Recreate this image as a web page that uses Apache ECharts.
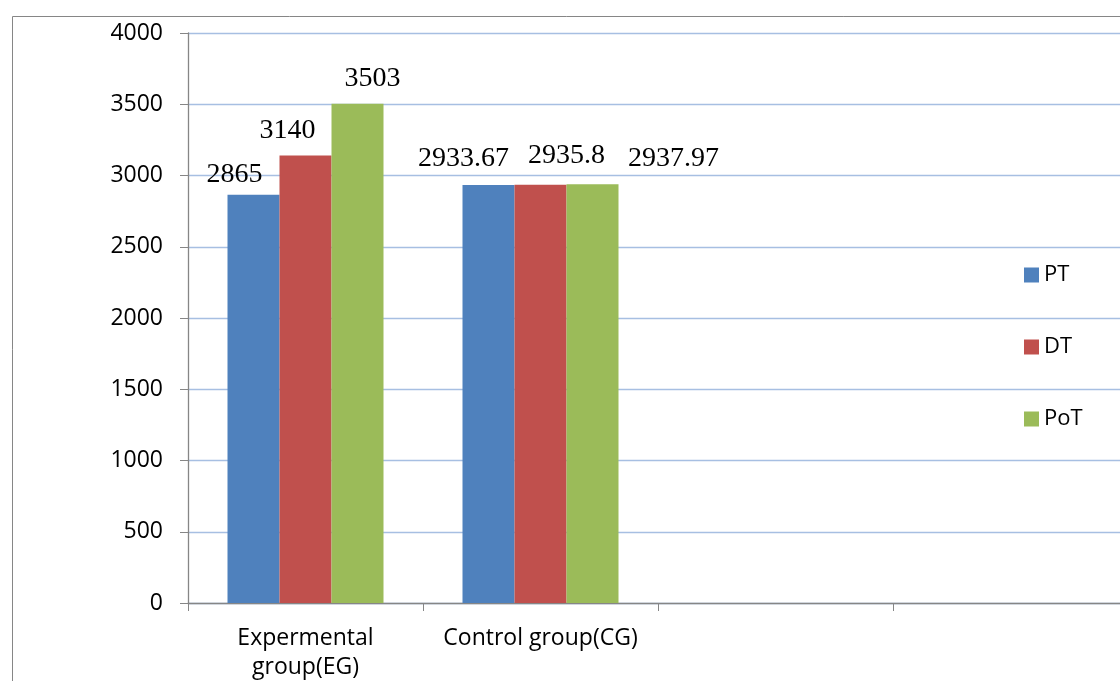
<!DOCTYPE html>
<html>
<head>
<meta charset="utf-8">
<script src="https://cdn.jsdelivr.net/npm/echarts@6/dist/echarts.min.js"></script>
<style>
  html, body { margin: 0; padding: 0; background: #ffffff; }
  #chart { width: 1120px; height: 681px; }
</style>
</head>
<body>
<div id="chart"></div>
<script>
// Groups on the x axis (the last two bands are empty)
const categories = ['Expermental\ngroup(EG)', 'Control group(CG)', '', ''];
// Test phases
const seriesNames = ['PT', 'DT', 'PoT'];
// Scores per phase, one value per group
const ptValues = [2865, 2933.67];
const dtValues = [3140, 2935.8];
const potValues = [3503, 2937.97];
// Y axis ticks
const yTicks = [0, 500, 1000, 1500, 2000, 2500, 3000, 3500, 4000];

// Colours and data-label shifts for each series
const palette = ['#4f81bd', '#c0504d', '#9bbb59'];
const labelShift = [
  [[-19, -6], [-25, -12]],
  [[-18, -11], [26, -15]],
  [[15, -11], [81, -12]]
];

const valueSets = [ptValues, dtValues, potValues];
const sansFont = '"Open Sans", sans-serif';

const series = seriesNames.map((name, s) => ({
  name: name,
  type: 'bar',
  barWidth: 52,
  barGap: '0%',
  itemStyle: { color: palette[s] },
  data: valueSets[s].map((v, i) => ({
    value: v,
    label: { offset: labelShift[s][i] }
  })),
  label: {
    show: true,
    position: 'top',
    distance: 0,
    fontFamily: '"Liberation Serif", "Times New Roman", serif',
    fontSize: 28,
    color: '#000000',
    formatter: p => String(p.value)
  }
}));

const chart = echarts.init(document.getElementById('chart'), null, { renderer: 'canvas' });
chart.setOption({
  animation: false,
  backgroundColor: '#ffffff',
  graphic: [{
    type: 'rect',
    shape: { x: 12.5, y: 16.5, width: 1300, height: 800 },
    style: { fill: 'none', stroke: '#868686', lineWidth: 1 },
    silent: true,
    z: -1
  }],
  // the plot area runs past the right edge of the canvas
  grid: { left: 188, width: 940, top: 33, bottom: 78, containLabel: false, outerBoundsMode: 'none' },
  legend: {
    orient: 'vertical',
    left: 1019,
    top: 259,
    itemWidth: 15,
    itemHeight: 15,
    itemGap: 50,
    icon: 'rect',
    textStyle: { fontFamily: sansFont, fontSize: 22, color: '#000000' },
    data: seriesNames
  },
  xAxis: {
    type: 'category',
    data: categories,
    axisLine: { lineStyle: { color: '#868686', width: 1.3 } },
    axisTick: { show: true, length: 8, lineStyle: { color: '#868686' } },
    axisLabel: {
      interval: 0,
      margin: 21,
      fontFamily: sansFont,
      fontSize: 23,
      lineHeight: 29,
      color: '#000000'
    }
  },
  yAxis: {
    type: 'value',
    min: yTicks[0],
    max: yTicks[yTicks.length - 1],
    interval: yTicks[1] - yTicks[0],
    axisLine: { show: true, lineStyle: { color: '#868686', width: 1.3 } },
    axisTick: { show: true, length: 8, lineStyle: { color: '#868686' } },
    axisLabel: {
      margin: 25,
      fontFamily: sansFont,
      fontSize: 23,
      color: '#000000',
      formatter: v => String(v)
    },
    splitLine: { show: true, lineStyle: { color: '#a7bfe2', width: 1.3 } }
  },
  series: series
});
</script>
</body>
</html>
